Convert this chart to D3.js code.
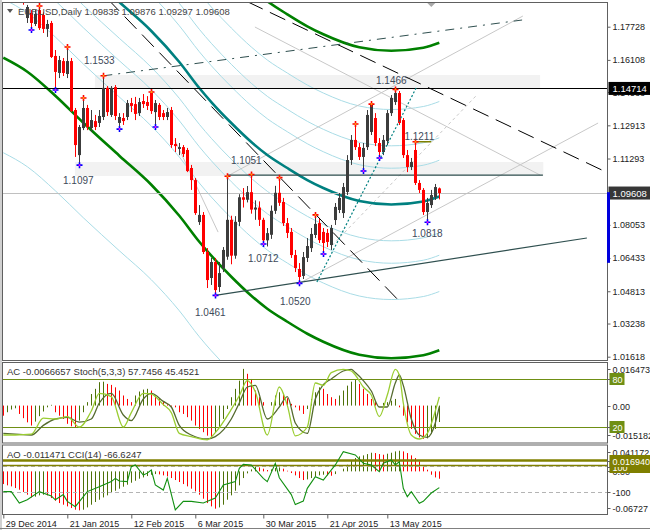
<!DOCTYPE html>
<html>
<head>
  <meta charset="utf-8">
  <title>EURUSD Daily</title>
  <script src="https://d3js.org/d3.v7.min.js"></script>
  <style>
    body { margin: 0; background: #fff; }
    svg { display: block; }
    text { font-family: "Liberation Sans", Arial, sans-serif; }
  </style>
</head>
<body>
  <svg width="650" height="530"></svg>

  <script>
    // ---------- data ----------
    const symbol = "EURUSD", period = "Daily";
    const dateLabels = ["29 Dec 2014", "21 Jan 2015", "12 Feb 2015", "6 Mar 2015", "30 Mar 2015", "21 Apr 2015", "13 May 2015"];
    const dateBars = [0, 16, 32, 48, 65, 81, 96];
    // 1.09673 sits under the current-price box, so it is left out
    const priceTicks = [1.17728, 1.16108, 1.14533, 1.12913, 1.11293, 1.08053, 1.06433, 1.04813, 1.03238, 1.01618];

    const open = [1.2170,1.2160,1.2130,1.2100,1.2005,1.1950,1.1815,1.1840,1.1786,1.1854,1.1830,1.1762,1.1791,1.1630,1.1547,1.1605,1.1542,1.1605,1.1366,1.1146,
      1.1278,1.1376,1.1278,1.1312,1.1303,1.1332,1.1474,1.1342,1.1478,1.1303,1.1327,1.1332,1.1400,1.1395,1.1351,1.1410,1.1405,1.1449,1.1356,1.1391,
      1.1351,1.1332,1.1366,1.1200,1.1176,1.1185,1.1171,1.1083,1.1024,1.0819,1.0854,1.0673,1.0546,1.0624,1.0502,1.0595,1.0650,1.0830,1.0655,1.0820,
      1.0940,1.0928,1.0965,1.0880,1.0890,1.0830,1.0730,1.0757,1.0874,1.0962,1.0917,1.0814,1.0771,1.0658,1.0590,1.0556,1.0644,1.0692,1.0756,1.0814,
      1.0771,1.0766,1.0707,1.0829,1.0878,1.0863,1.0966,1.1122,1.1220,1.1185,1.1137,1.1185,1.1259,1.1327,1.1205,1.1161,1.1215,1.1351,1.1405,1.1449,
      1.1317,1.1146,1.1088,1.1171,1.1010,1.0976,1.0868,1.0902,1.0941,1.09835];
    const high = [1.2185,1.2170,1.2140,1.2105,1.2010,1.1965,1.1879,1.1854,1.1854,1.1874,1.1845,1.1806,1.1801,1.1659,1.1630,1.1620,1.1674,1.1620,1.1376,1.1293,
      1.1425,1.1391,1.1366,1.1342,1.1366,1.1533,1.1483,1.1483,1.1488,1.1351,1.1351,1.1415,1.1425,1.1430,1.1425,1.1444,1.1434,1.1454,1.1415,1.1400,
      1.1366,1.1376,1.1381,1.1229,1.1205,1.1195,1.1181,1.1098,1.1034,1.0902,1.0868,1.0692,1.0644,1.0644,1.0624,1.0697,1.1043,1.0850,1.0848,1.0955,
      1.0985,1.0995,1.1051,1.0925,1.0920,1.0840,1.0790,1.0900,1.0996,1.1036,1.0937,1.0839,1.0790,1.0683,1.0619,1.0673,1.0741,1.0790,1.0854,1.0839,
      1.0790,1.0785,1.0805,1.0912,1.0961,1.1010,1.1146,1.1244,1.1298,1.1205,1.1205,1.1366,1.1395,1.1351,1.1229,1.1244,1.1366,1.1439,1.1466,1.1459,
      1.1327,1.1171,1.1132,1.1211,1.1024,1.0985,1.0937,1.0976,1.1005,1.09876];
    const low = [1.2140,1.2125,1.2095,1.2000,1.1930,1.1880,1.1791,1.1757,1.1776,1.1757,1.1742,1.1723,1.1620,1.1464,1.1522,1.1532,1.1522,1.1356,1.1137,1.1097,
      1.1268,1.1268,1.1259,1.1268,1.1283,1.1317,1.1337,1.1332,1.1317,1.1273,1.1293,1.1317,1.1356,1.1317,1.1337,1.1376,1.1366,1.1347,1.1283,1.1317,
      1.1317,1.1317,1.1181,1.1161,1.1146,1.1137,1.1063,1.0976,1.0854,1.0805,1.0663,1.0497,1.0512,1.0461,1.0478,1.0575,1.0635,1.0613,1.0640,1.0800,
      1.0890,1.0915,1.0860,1.0830,1.0800,1.0712,1.0700,1.0737,1.0859,1.0898,1.0800,1.0741,1.0644,1.0575,1.0520,1.0541,1.0624,1.0673,1.0741,1.0717,
      1.0663,1.0697,1.0683,1.0805,1.0863,1.0839,1.0951,1.1098,1.1171,1.1122,1.1068,1.1171,1.1244,1.1190,1.1132,1.1146,1.1195,1.1337,1.1391,1.1293,
      1.1132,1.1063,1.1073,1.1000,1.0961,1.0854,1.0818,1.0888,1.0927,1.09297];
    const close = [1.2160,1.2130,1.2100,1.2005,1.1935,1.1890,1.1869,1.1791,1.1835,1.1766,1.1762,1.1786,1.1625,1.1552,1.1610,1.1547,1.1605,1.1361,1.1195,1.1283,
      1.1376,1.1283,1.1317,1.1283,1.1337,1.1474,1.1356,1.1474,1.1337,1.1332,1.1312,1.1400,1.1386,1.1347,1.1405,1.1395,1.1386,1.1361,1.1400,1.1332,
      1.1332,1.1356,1.1195,1.1190,1.1185,1.1151,1.1068,1.1024,1.0863,1.0854,1.0673,1.0536,1.0624,1.0487,1.0570,1.0683,1.0830,1.0655,1.0820,1.0940,
      1.0928,1.0965,1.0880,1.0890,1.0830,1.0730,1.0765,1.0874,1.0962,1.0913,1.0814,1.0766,1.0658,1.0595,1.0551,1.0648,1.0702,1.0761,1.0810,1.0731,
      1.0717,1.0722,1.0790,1.0893,1.0937,1.0990,1.1122,1.1220,1.1185,1.1137,1.1181,1.1342,1.1391,1.1205,1.1161,1.1220,1.1351,1.1425,1.1449,1.1303,
      1.1146,1.1088,1.1112,1.1010,1.0976,1.0868,1.0912,1.0951,1.0990,1.09608];

    // fractal markers (bar indices)
    const fractalUp = [9, 16, 20, 25, 37, 56, 62, 69, 78, 88, 92, 98, 103];
    const fractalDown = [7, 13, 19, 29, 38, 53, 65, 74, 80, 90, 94, 106];

    // swing price labels
    const swingText = ["1.1533", "1.1097", "1.1051", "1.0712", "1.0461", "1.0520", "1.1466", "1.1211", "1.0818"];
    const swingBar = [25, 19, 62, 65, 53, 74, 98, 103, 106];
    const swingPrice = [1.1533, 1.1097, 1.1051, 1.0712, 1.0461, 1.0520, 1.1466, 1.1211, 1.0818];

    // regression channel centre [bar, price], deviation and level multipliers
    const regCenter = [[0,1.23718],[6,1.23035],[13,1.21863],[20,1.20545],[29,1.18934],[37,1.17518],[44,1.16004],[49,1.14735],
      [52,1.14051],[57,1.13026],[62,1.12099],[66,1.11464],[71,1.10829],[76,1.10243],[80,1.09853],[89,1.09218],[97,1.09047],[105,1.09194],[109,1.09438]];
    const regDev = 0.04638;
    const fibLevels = [-2.618, -1, -0.618, -0.382, 0.382, 0.618, 1, 2.618];
    const channelLevel = 1.618;

    // drawn objects [bar, price]
    const zones = [[22.9, 134.2, 1.1537, 1.1473], [17.9, 135, 1.1112, 1.1044]];
    const blackDashLines = [[[26, 1.1910], [98.7, 1.0439]], [[61, 1.1895], [151.2, 1.10586]]];
    const dashDotLine = [[25, 1.1533], [129.7, 1.18055]];
    const supportLine = [[53, 1.0461], [145.9, 1.07413]];
    const levelLine = [[56, 1.1048], [134.9, 1.1048]];
    const tealDotLine = [[78.4, 1.0526], [103.2, 1.14732]];
    const grayDotLine = [[82.2, 1.07048], [118.4, 1.14395]];
    const grayLines = [
      [[62.9, 1.17713], [134.2, 1.10486]],
      [[56, 1.1043], [129.9, 1.18250]],
      [[74, 1.0520], [148.7, 1.13026]],
      [[42.9, 1.12192], [53.7, 1.07701]]
    ];
    const blackLevel = 1.14714;
    const shortLevel = [[103, 1.1211], [107, 1.1211]];
    const blueBar = [1.0965, 1.0620];

    // Accelerator oscillator and stochastic
    const ac = [-0.0041,-0.0027,-0.0016,-0.0011,-0.0034,-0.0051,-0.0068,-0.0081,-0.0065,-0.0043,-0.0024,-0.0007,0.0003,-0.0027,-0.0041,-0.0054,-0.0074,-0.0084,-0.0088,-0.0061,
      -0.0027,0.0014,0.0047,0.0068,0.0095,0.0097,0.0088,0.0084,0.0074,0.0061,0.0041,0.0027,0.0014,0.0041,0.0057,0.0065,0.0068,0.0061,0.0041,0.0027,
      0.0014,0.0005,-0.0004,-0.0007,-0.0027,-0.0034,-0.0047,-0.0061,-0.0081,-0.0095,-0.0108,-0.0122,-0.0129,-0.0108,-0.0088,-0.0054,-0.0014,0.0034,0.0068,0.0101,
      0.0149,0.0129,0.0108,0.0061,0.0034,0.0014,0.0000,0.0014,0.0041,0.0054,0.0047,0.0030,0.0007,-0.0007,-0.0020,-0.0034,-0.0014,0.0027,0.0054,0.0074,
      0.0068,0.0047,0.0034,0.0027,0.0041,0.0061,0.0081,0.0097,0.0106,0.0088,0.0068,0.0047,0.0027,0.0014,0.0000,0.0011,0.0014,0.0020,0.0027,-0.0007,
      -0.0041,-0.0068,-0.0095,-0.0115,-0.0129,-0.0135,-0.0133,-0.0115,-0.0095,-0.0066657];
    const stochMain = [[0,10],[3,10],[7,11],[10,31],[13,30],[16,33],[19,20],[22,40],[24,62],[27,58],[30,20],[32,38],[35,62],[37,61],[40,48],[42,38],
      [44,12],[47,8],[51,4],[53,13],[57,42],[59,59],[61,78],[63,64],[66,10],[69,70],[71,47],[73,9],[76,20],[78,75],[80,72],[82,88],[85,92],[87,90],
      [88,85],[90,70],[92,60],[94,33],[96,60],[98,92],[99,85],[100,50],[102,10],[104,5],[106,12],[108,40],[109,57.7456]];
    const stochSignal = [[0,12],[3,11],[7,10],[10,22],[13,30],[16,32],[19,26],[22,30],[24,50],[27,62],[30,35],[32,28],[35,55],[37,62],[40,52],[42,45],
      [44,22],[47,10],[51,5],[53,8],[57,30],[59,50],[61,70],[63,72],[66,30],[69,45],[71,58],[73,25],[76,12],[78,55],[80,73],[82,80],[85,90],[87,92],
      [88,88],[90,78],[92,65],[94,45],[96,45],[98,75],[99,85],[100,72],[102,30],[104,10],[106,7],[108,25],[109,45.4521]];

    // Awesome oscillator and CCI
    const ao = [-0.0198,-0.0218,-0.0234,-0.0260,-0.0286,-0.0322,-0.0364,-0.0406,-0.0395,-0.0374,-0.0364,-0.0374,-0.0416,-0.0458,-0.0494,-0.0520,-0.0546,-0.0572,-0.0598,-0.0608,
      -0.0598,-0.0562,-0.0520,-0.0478,-0.0442,-0.0406,-0.0374,-0.0338,-0.0302,-0.0270,-0.0239,-0.0208,-0.0177,-0.0146,-0.0114,-0.0094,-0.0073,-0.0052,-0.0042,-0.0047,
      -0.0062,-0.0078,-0.0104,-0.0135,-0.0166,-0.0198,-0.0234,-0.0270,-0.0312,-0.0364,-0.0426,-0.0494,-0.0546,-0.0582,-0.0562,-0.0520,-0.0442,-0.0374,-0.0302,-0.0218,
      -0.0104,-0.0031,0.0031,0.0073,0.0062,0.0042,0.0021,0.0031,0.0052,0.0062,0.0042,0.0010,-0.0026,-0.0062,-0.0104,-0.0135,-0.0125,-0.0104,-0.0078,-0.0062,
      -0.0052,-0.0062,-0.0068,-0.0042,0.0000,0.0042,0.0104,0.0166,0.0208,0.0234,0.0250,0.0270,0.0291,0.0286,0.0270,0.0260,0.0276,0.0291,0.0312,0.0322,
      0.0312,0.0286,0.0250,0.0208,0.0156,0.0094,0.0026,-0.0052,-0.0094,-0.011471];
    const aoLevel = 0.016940;
    const cci = [[0,-97],[2,-97],[4,-185],[6,-160],[9,-97],[12,-130],[13,-160],[15,-120],[16,-172],[18,-213],[21,-97],[24,-59],[27,-20],[28,5],[29,-15],
      [31,-20],[32,95],[33,108],[35,31],[36,45],[37,69],[38,-46],[40,-85],[41,5],[43,-238],[45,-172],[47,-172],[50,-185],[53,-146],[55,-46],[58,-20],
      [59,82],[60,113],[62,108],[65,5],[66,-20],[68,121],[69,10],[72,-120],[73,-197],[75,-170],[76,-72],[78,18],[80,-8],[83,108],[85,210],[88,185],
      [90,121],[92,108],[94,56],[95,121],[97,146],[98,108],[99,133],[100,-72],[101,-136],[102,-97],[104,-187],[105,-172],[107,-108],[109,-66.6247]];

    // ---------- layout ----------
    const plotL = 3, plotR = 607.5;
    const mainTop = 2.5, mainBot = 360.5;
    const acTop = 362.5, acBot = 443;
    const aoTop = 445, aoBot = 514.5;
    const bull = "#3c3c3c", bear = "#ff0000";
    const histGreen = "#4e7008";
    const olive = "#6f8f14";

    const svg = d3.select("svg");

    const x = d3.scaleLinear().domain([0, 109]).range([3.3, 439.3]);
    const y = d3.scaleLinear().domain([1.01618, 1.17728]).range([356.7, 26.7]);
    const yAc = d3.scaleLinear().domain([-0.015182, 0.016473]).range([443, 365]);
    const yStoch = d3.scaleLinear().domain([0, 100]).range([443, 363]);
    const yAo = d3.scaleLinear().domain([-0.06727, 0.041172]).range([514.5, 445]);
    const yCci = d3.scaleLinear().domain([-100, 100]).range([492, 466]);
    const px = i => Math.round(x(i)) + 0.5;

    // clip paths for the three panes
    const defs = svg.append("defs");
    [["clipMain", mainTop, mainBot], ["clipAc", acTop, acBot], ["clipAo", aoTop, aoBot]].forEach(([id, t, b]) => {
      defs.append("clipPath").attr("id", id).append("rect")
        .attr("x", plotL).attr("y", t).attr("width", plotR - plotL).attr("height", b - t);
    });

    // ---------- main pane ----------
    const main = svg.append("g").attr("clip-path", "url(#clipMain)");
    const line = d3.line().x(d => x(d[0])).y(d => y(d[1]));
    const curve = d3.line().x(d => x(d[0])).y(d => y(d[1])).curve(d3.curveMonotoneX);

    // shaded zones
    main.selectAll(".zone").data(zones).join("rect")
      .attr("x", d => x(d[0])).attr("width", d => x(d[1]) - x(d[0]))
      .attr("y", d => y(d[2])).attr("height", d => y(d[3]) - y(d[2]))
      .attr("fill", "#f2f2f2");

    // regression fib levels
    fibLevels.forEach(k => {
      main.append("path")
        .attr("d", curve(regCenter.map(([i, p]) => [i, p + k * regDev])))
        .attr("fill", "none").attr("stroke", "#a9dce6").attr("stroke-width", 1);
    });

    // thin gray lines
    grayLines.forEach(l => main.append("path").attr("d", line(l))
      .attr("stroke", "#c8c8c8").attr("stroke-width", 1).attr("fill", "none"));
    main.append("path").attr("d", line(grayDotLine))
      .attr("stroke", "#c8c8c8").attr("stroke-dasharray", "3,3").attr("fill", "none");

    // channel borders and centre
    [-channelLevel, channelLevel].forEach(k => {
      main.append("path")
        .attr("d", curve(regCenter.map(([i, p]) => [i, p + k * regDev])))
        .attr("fill", "none").attr("stroke", "#008000").attr("stroke-width", 2.6);
    });
    main.append("path").attr("d", curve(regCenter))
      .attr("fill", "none").attr("stroke", "#008080").attr("stroke-width", 2.6);

    // level lines
    main.append("line").attr("x1", plotL).attr("x2", plotR)
      .attr("y1", Math.round(y(close[109])) + 0.5).attr("y2", Math.round(y(close[109])) + 0.5)
      .attr("stroke", "#c0c0c0");
    main.append("line").attr("x1", plotL).attr("x2", plotR)
      .attr("y1", Math.round(y(blackLevel)) + 0.5).attr("y2", Math.round(y(blackLevel)) + 0.5)
      .attr("stroke", "#000");
    main.append("path").attr("d", line(levelLine)).attr("stroke", "#2f4f4f").attr("stroke-width", 1.2);
    main.append("path").attr("d", line(supportLine)).attr("stroke", "#2f4f4f").attr("stroke-width", 1.2);
    main.append("path").attr("d", line(shortLevel)).attr("stroke", "#808000").attr("stroke-width", 1.5);

    // candles
    const bars = d3.range(open.length);
    const candle = main.append("g");
    candle.selectAll(".wick").data(bars).join("line")
      .attr("x1", px).attr("x2", px)
      .attr("y1", i => y(high[i])).attr("y2", i => y(low[i]))
      .attr("stroke", i => close[i] >= open[i] ? bull : bear);
    candle.selectAll(".body").data(bars).join("rect")
      .attr("x", i => Math.round(x(i)) - 1).attr("width", 3)
      .attr("y", i => y(Math.max(open[i], close[i])))
      .attr("height", i => Math.max(1, Math.abs(y(open[i]) - y(close[i]))))
      .attr("fill", i => close[i] >= open[i] ? bull : bear);

    // drawn trend lines
    blackDashLines.forEach(l => main.append("path").attr("d", line(l))
      .attr("stroke", "#000").attr("stroke-dasharray", "17,8").attr("fill", "none"));
    main.append("path").attr("d", line(dashDotLine))
      .attr("stroke", "#2f4f4f").attr("stroke-width", 1).attr("stroke-dasharray", "9,6,2,6").attr("fill", "none");
    main.append("path").attr("d", line(tealDotLine))
      .attr("stroke", "#008080").attr("stroke-width", 1.2).attr("stroke-dasharray", "2,2").attr("fill", "none");

    // fractal markers
    const marker = (i, p, col, dot) => {
      const g = main.append("g").attr("transform", `translate(${px(i)},${y(p)})`);
      g.append("path").attr("d", "M-3,0H3M0,-3V3").attr("stroke", col).attr("stroke-width", 1.6);
      g.append("circle").attr("r", 1).attr("fill", dot);
    };
    fractalUp.forEach(i => marker(i, high[i], "#ff0000", "#ffa500"));
    fractalDown.forEach(i => marker(i, low[i], "#0000ff", "#ff00ff"));

    // swing labels
    const labelShift = [[-4, -15], [-1, 15], [-5, -14], [0, 14.5], [-5, 17], [-4, 18], [-4, -9], [4, -5], [0, 11.5]];
    swingText.forEach((t, k) => {
      main.append("text")
        .attr("x", x(swingBar[k]) + labelShift[k][0])
        .attr("y", y(swingPrice[k]) + labelShift[k][1] + 3.5)
        .attr("text-anchor", "middle").attr("font-size", 10).attr("fill", "#3e4a5a")
        .text(t);
    });

    // header
    svg.append("path").attr("d", "M7,9H13L10,13Z").attr("fill", "#555");
    const f5 = d3.format(".5f");
    svg.append("text").attr("x", 18).attr("y", 15).attr("font-size", 9.5).attr("fill", "#444")
      .text(`${symbol},${period} ${f5(open[109])} ${f5(high[109])} ${f5(low[109])} ${f5(close[109])}`);
    svg.append("path").attr("d", `M${x(107) - 4},3H${x(107) + 4}L${x(107)},7Z`).attr("fill", "#a8a8a8");

    // ---------- AC / Stochastic pane ----------
    const acG = svg.append("g").attr("clip-path", "url(#clipAc)");
    acG.selectAll("line.ac").data(bars).join("line")
      .attr("x1", px).attr("x2", px)
      .attr("y1", yAc(0)).attr("y2", i => yAc(ac[i]))
      .attr("stroke", i => i > 0 && ac[i] > ac[i - 1] ? histGreen : bear);
    [80, 20].forEach(v => acG.append("line").attr("x1", plotL).attr("x2", plotR)
      .attr("y1", Math.round(yStoch(v)) + 0.5).attr("y2", Math.round(yStoch(v)) + 0.5)
      .attr("stroke", olive).attr("stroke-width", 1.2));
    const sLine = d3.line().x(d => x(d[0])).y(d => yStoch(d[1])).curve(d3.curveMonotoneX);
    acG.append("path").attr("d", sLine(stochSignal)).attr("fill", "none").attr("stroke", "#556b2f").attr("stroke-width", 1.3);
    acG.append("path").attr("d", sLine(stochMain)).attr("fill", "none").attr("stroke", "#9acd32").attr("stroke-width", 1.3);
    svg.append("text").attr("x", 7).attr("y", 375).attr("font-size", 9.5).attr("fill", "#333")
      .text("AC -0.0066657  Stoch(5,3,3) 57.7456 45.4521");

    // ---------- AO / CCI pane ----------
    const aoG = svg.append("g").attr("clip-path", "url(#clipAo)");
    aoG.selectAll("line.ao").data(bars).join("line")
      .attr("x1", px).attr("x2", px)
      .attr("y1", yAo(0)).attr("y2", i => yAo(ao[i]))
      .attr("stroke", i => i > 0 && ao[i] > ao[i - 1] ? histGreen : bear);
    [100, -100].forEach(v => aoG.append("line").attr("x1", plotL).attr("x2", plotR)
      .attr("y1", Math.round(yCci(v)) + 0.5).attr("y2", Math.round(yCci(v)) + 0.5)
      .attr("stroke", "#b4b4b4").attr("stroke-dasharray", "4,3"));
    aoG.append("line").attr("x1", plotL).attr("x2", plotR)
      .attr("y1", yAo(aoLevel)).attr("y2", yAo(aoLevel))
      .attr("stroke", "#808000").attr("stroke-width", 2.5);
    aoG.append("line").attr("x1", plotL).attr("x2", plotR)
      .attr("y1", yCci(100) - 0.5).attr("y2", yCci(100) - 0.5)
      .attr("stroke", "#808000").attr("stroke-width", 1.5);
    aoG.append("path").attr("d", d3.line().x(d => x(d[0])).y(d => yCci(d[1]))(cci))
      .attr("fill", "none").attr("stroke", "#119011").attr("stroke-width", 1.1);
    svg.append("text").attr("x", 7).attr("y", 458).attr("font-size", 9.5).attr("fill", "#333")
      .text("AO -0.011471  CCI(14) -66.6247");

    // ---------- frames ----------
    svg.append("rect").attr("x", 0).attr("y", 0).attr("width", 2).attr("height", 530).attr("fill", "#d0d0d0");
    [[mainTop, mainBot], [acTop, acBot], [aoTop, aoBot]].forEach(([t, b]) => {
      svg.append("rect").attr("x", 2.5).attr("y", t).attr("width", plotR - 2.5).attr("height", b - t)
        .attr("fill", "none").attr("stroke", "#606060");
    });

    // ---------- axes ----------
    const axisStyle = g => {
      g.select(".domain").remove();
      g.selectAll("line").attr("stroke", "#606060");
      g.selectAll("text").attr("font-size", 9).attr("fill", "#222")
        .attr("font-family", '"Liberation Sans", Arial, sans-serif');
    };
    svg.append("g").attr("transform", `translate(${plotR},0)`)
      .call(d3.axisRight(y).tickValues(priceTicks).tickFormat(d3.format(".5f")).tickSize(3).tickPadding(2))
      .call(axisStyle);

    // price boxes on the axis
    const priceBox = (p, fill, txt) => {
      const yy = y(p);
      svg.append("rect").attr("x", plotR + 1).attr("y", yy - 6.5).attr("width", 44).attr("height", 13).attr("fill", fill);
      svg.append("text").attr("x", plotR + 5).attr("y", yy + 3.5).attr("font-size", 9.5).attr("fill", "#fff").text(txt);
    };
    priceBox(blackLevel, "#000", f5(blackLevel));
    priceBox(close[109], "#363636", f5(close[109]));
    svg.append("rect").attr("x", plotR - 0.5).attr("width", 3)
      .attr("y", y(blueBar[0])).attr("height", y(blueBar[1]) - y(blueBar[0])).attr("fill", "#0000dd");

    // indicator pane scales
    const sideText = (yy, txt, box) => {
      if (box) svg.append("rect").attr("x", plotR + 2).attr("y", yy - 6).attr("width", box).attr("height", 12).attr("fill", box > 20 ? "#7f7f00" : olive);
      svg.append("line").attr("x1", plotR).attr("x2", plotR + 3).attr("y1", yy + 0.5).attr("y2", yy + 0.5).attr("stroke", "#606060");
      svg.append("text").attr("x", plotR + 5).attr("y", yy + 3.5).attr("font-size", 9)
        .attr("fill", box ? "#fff" : "#222").text(txt);
    };
    sideText(369, "0.016473");
    sideText(Math.round(yAc(0)), "0.00");
    sideText(435, "-0.015182");
    sideText(Math.round(yStoch(80)), "80", 15);
    sideText(Math.round(yStoch(20)), "20", 15);
    sideText(452, "0.041172");
    sideText(Math.round(yAo(0)), "0.00");
    sideText(Math.round(yCci(100)) + 1, "100", 44);
    sideText(Math.round(yAo(aoLevel)), "0.016940", 44);
    sideText(Math.round(yCci(-100)), "-100");
    sideText(508, "-0.06727");

    // date axis
    svg.append("g").attr("transform", `translate(0,${aoBot})`)
      .call(d3.axisBottom(x).tickValues(dateBars).tickFormat((d, k) => dateLabels[k]).tickSize(4).tickPadding(2))
      .call(axisStyle)
      .call(g => g.selectAll("text").attr("text-anchor", "start").attr("dx", 2));
    svg.append("line").attr("x1", 0).attr("x2", 650).attr("y1", 528.5).attr("y2", 528.5).attr("stroke", "#808080");
  </script>
</body>
</html>
